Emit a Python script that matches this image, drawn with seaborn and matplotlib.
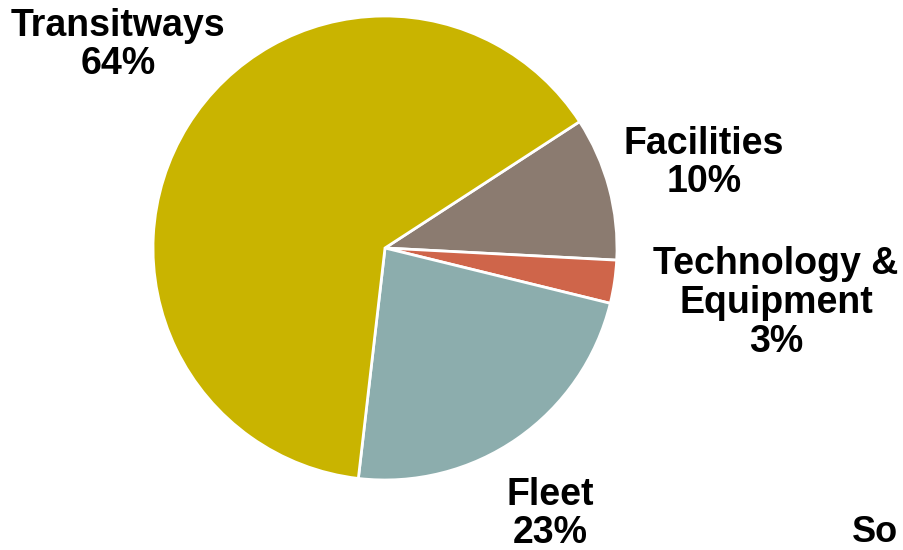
import matplotlib
matplotlib.use("Agg")
import matplotlib.pyplot as plt
import seaborn as sns

sns.set_theme(style="white")
plt.rcParams["font.family"] = ["Liberation Sans", "DejaVu Sans"]

# slice data, clockwise from the Transitways/Facilities boundary
categories = ["Facilities", "Technology &\nEquipment", "Fleet", "Transitways"]
shares = [10, 3, 23, 64]
colors = ["#8B7B70", "#CF654A", "#8CADAD", "#C9B400"]

# label anchors in pixel coords (x, y from top)
label_pos = [(704, 163), (776, 303), (550, 514), (118, 45)]

W, H = 904, 550
fig = plt.figure(figsize=(W / 100, H / 100), dpi=100)
ax = fig.add_axes([0, 0, 1, 1])
ax.set_xlim(0, W)
ax.set_ylim(0, H)
ax.set_aspect("equal")
ax.axis("off")

ax.pie(
    shares,
    colors=colors,
    startangle=33,
    counterclock=False,
    center=(385, H - 248),
    radius=232,
    wedgeprops=dict(edgecolor="white", linewidth=2),
)
ax.set_xlim(0, W)
ax.set_ylim(0, H)

for name, val, (x, y) in zip(categories, shares, label_pos):
    ax.text(
        x, H - y, f"{name}\n{val}%",
        ha="center", va="center", fontsize=27, fontweight="bold",
        color="black", linespacing=1.1,
    )

# footer text, cut off at the right edge in the original
fig.text(852 / W, 1 - 542 / H, "So", ha="left", va="baseline",
         fontsize=26, fontweight="bold", color="black")

fig.savefig("out.png", dpi=100)
